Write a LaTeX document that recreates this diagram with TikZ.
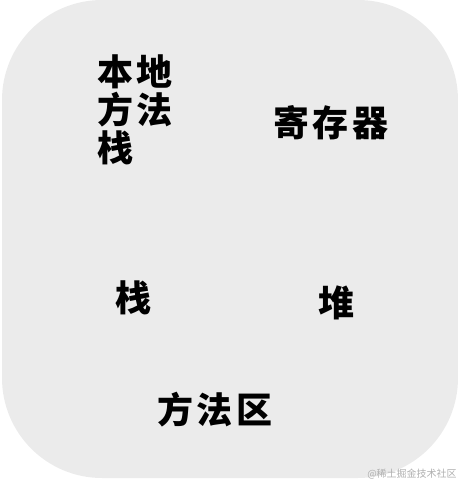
\documentclass[tikz,border=0pt]{standalone}
\usepackage{fontspec}
\usepackage{tikz}
\newfontfamily\cjk{Noto Sans CJK SC}[LetterSpace=10]
\newfontfamily\cjkmark{Noto Sans CJK SC}
\definecolor{panelgray}{RGB}{235,235,235}
\definecolor{markgray}{RGB}{175,175,175}
\begin{document}
\begin{tikzpicture}[x=0.75pt,y=-0.75pt,
    area/.style={font=\cjk\bfseries\fontsize{27}{28.5}\selectfont, inner sep=0pt, align=left}
]
\useasboundingbox (0,0) rectangle (459,480);

% panel
\fill[panelgray, rounded corners=75pt] (2,0) rectangle (458,478);

% memory areas
\node[area, anchor=west] (native) at (97,110) {本地\\方法\\栈};
\node[area] (register) at (331,123) {寄存器};
\node[area] (stack) at (133,298) {栈};
\node[area] (heap) at (337,303) {堆};
\node[area] (method) at (215,410) {方法区};

% watermark
\node[font=\cjkmark\fontsize{7.5}{8}\selectfont, text=markgray, inner sep=0pt] (mark) at (412,474) {@稀土掘金技术社区};

\end{tikzpicture}
\end{document}
